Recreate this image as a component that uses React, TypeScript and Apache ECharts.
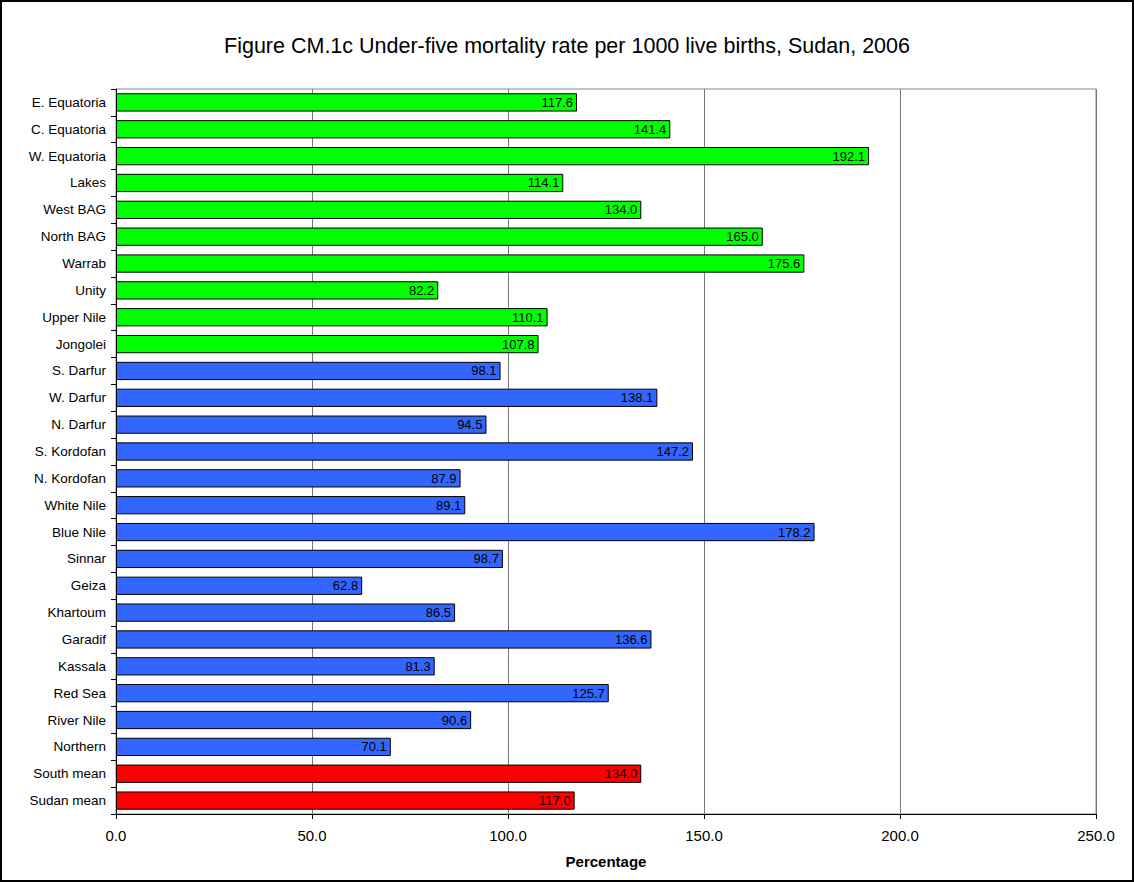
import React, { useEffect, useRef } from "react";
import * as echarts from "echarts";

const categories = [
  "E. Equatoria", "C. Equatoria", "W. Equatoria", "Lakes", "West BAG", "North BAG",
  "Warrab", "Unity", "Upper Nile", "Jongolei", "S. Darfur", "W. Darfur", "N. Darfur",
  "S. Kordofan", "N. Kordofan", "White Nile", "Blue Nile", "Sinnar", "Geiza",
  "Khartoum", "Garadif", "Kassala", "Red Sea", "River Nile", "Northern",
  "South mean", "Sudan mean",
];
const values = [
  117.6, 141.4, 192.1, 114.1, 134.0, 165.0, 175.6, 82.2, 110.1, 107.8,
  98.1, 138.1, 94.5, 147.2, 87.9, 89.1, 178.2, 98.7, 62.8, 86.5, 136.6, 81.3, 125.7, 90.6, 70.1,
  134.0, 117.0,
];
const groups = [
  "south", "south", "south", "south", "south", "south", "south", "south", "south", "south",
  "north", "north", "north", "north", "north", "north", "north", "north", "north", "north",
  "north", "north", "north", "north", "north",
  "mean", "mean",
];
const groupColors: Record<string, string> = { south: "#00FF00", north: "#3366FF", mean: "#FF0000" };
const title = "Figure CM.1c Under-five mortality rate per 1000 live births, Sudan, 2006";

export default function App() {
  const ref = useRef<HTMLDivElement>(null);
  useEffect(() => {
    document.body.style.margin = "0";
    const chart = echarts.init(ref.current!, null, { renderer: "svg" });
    chart.setOption({
      animation: false,
      backgroundColor: "transparent",
      title: {
        text: title,
        left: "center",
        top: 30,
        textStyle: { fontFamily: "Liberation Sans, Arial", fontSize: 21.5, fontWeight: "normal", color: "#000" },
      },
      grid: {
        left: 116, right: 38, top: 89, bottom: 68,
        show: true, borderColor: "#888", borderWidth: 1,
      },
      xAxis: {
        type: "value",
        min: 0, max: 250, interval: 50,
        name: "Percentage",
        nameLocation: "middle",
        nameGap: 40,
        nameTextStyle: { fontFamily: "Liberation Sans, Arial", fontSize: 15, fontWeight: "bold", color: "#000" },
        axisLine: { show: true, lineStyle: { color: "#000", width: 1 } },
        axisTick: { show: true, length: 5, lineStyle: { color: "#000" } },
        axisLabel: {
          formatter: (v: number) => v.toFixed(1),
          fontFamily: "Liberation Sans, Arial", fontSize: 15, color: "#000", margin: 14,
        },
        splitLine: { show: true, lineStyle: { color: "#777", width: 1 } },
      },
      yAxis: {
        type: "category",
        data: categories,
        inverse: true,
        axisLine: { show: true, lineStyle: { color: "#000", width: 1 } },
        axisTick: { show: true, length: 5, lineStyle: { color: "#000" } },
        axisLabel: { fontFamily: "Liberation Sans, Arial", fontSize: 13.5, color: "#000", margin: 10 },
        splitLine: { show: false },
      },
      series: [
        {
          type: "bar",
          data: values.map((v, i) => ({
            value: v,
            itemStyle: { color: groupColors[groups[i]] },
          })),
          barCategoryGap: "32%",
          itemStyle: { borderColor: "#000", borderWidth: 1 },
          label: {
            show: true,
            position: "insideRight",
            distance: 4,
            formatter: (p: any) => Number(p.value).toFixed(1),
            fontFamily: "Liberation Sans, Arial",
            fontSize: 13,
            color: "#000",
          },
        },
      ],
    });
    return () => chart.dispose();
  }, []);
  return (
    <div
      style={{
        width: 1134, height: 882, boxSizing: "border-box",
        border: "2px solid #000", background: "#fff", position: "relative",
      }}
    >
      <div ref={ref} style={{ position: "absolute", left: -2, top: -2, width: 1134, height: 882 }} />
    </div>
  );
}
